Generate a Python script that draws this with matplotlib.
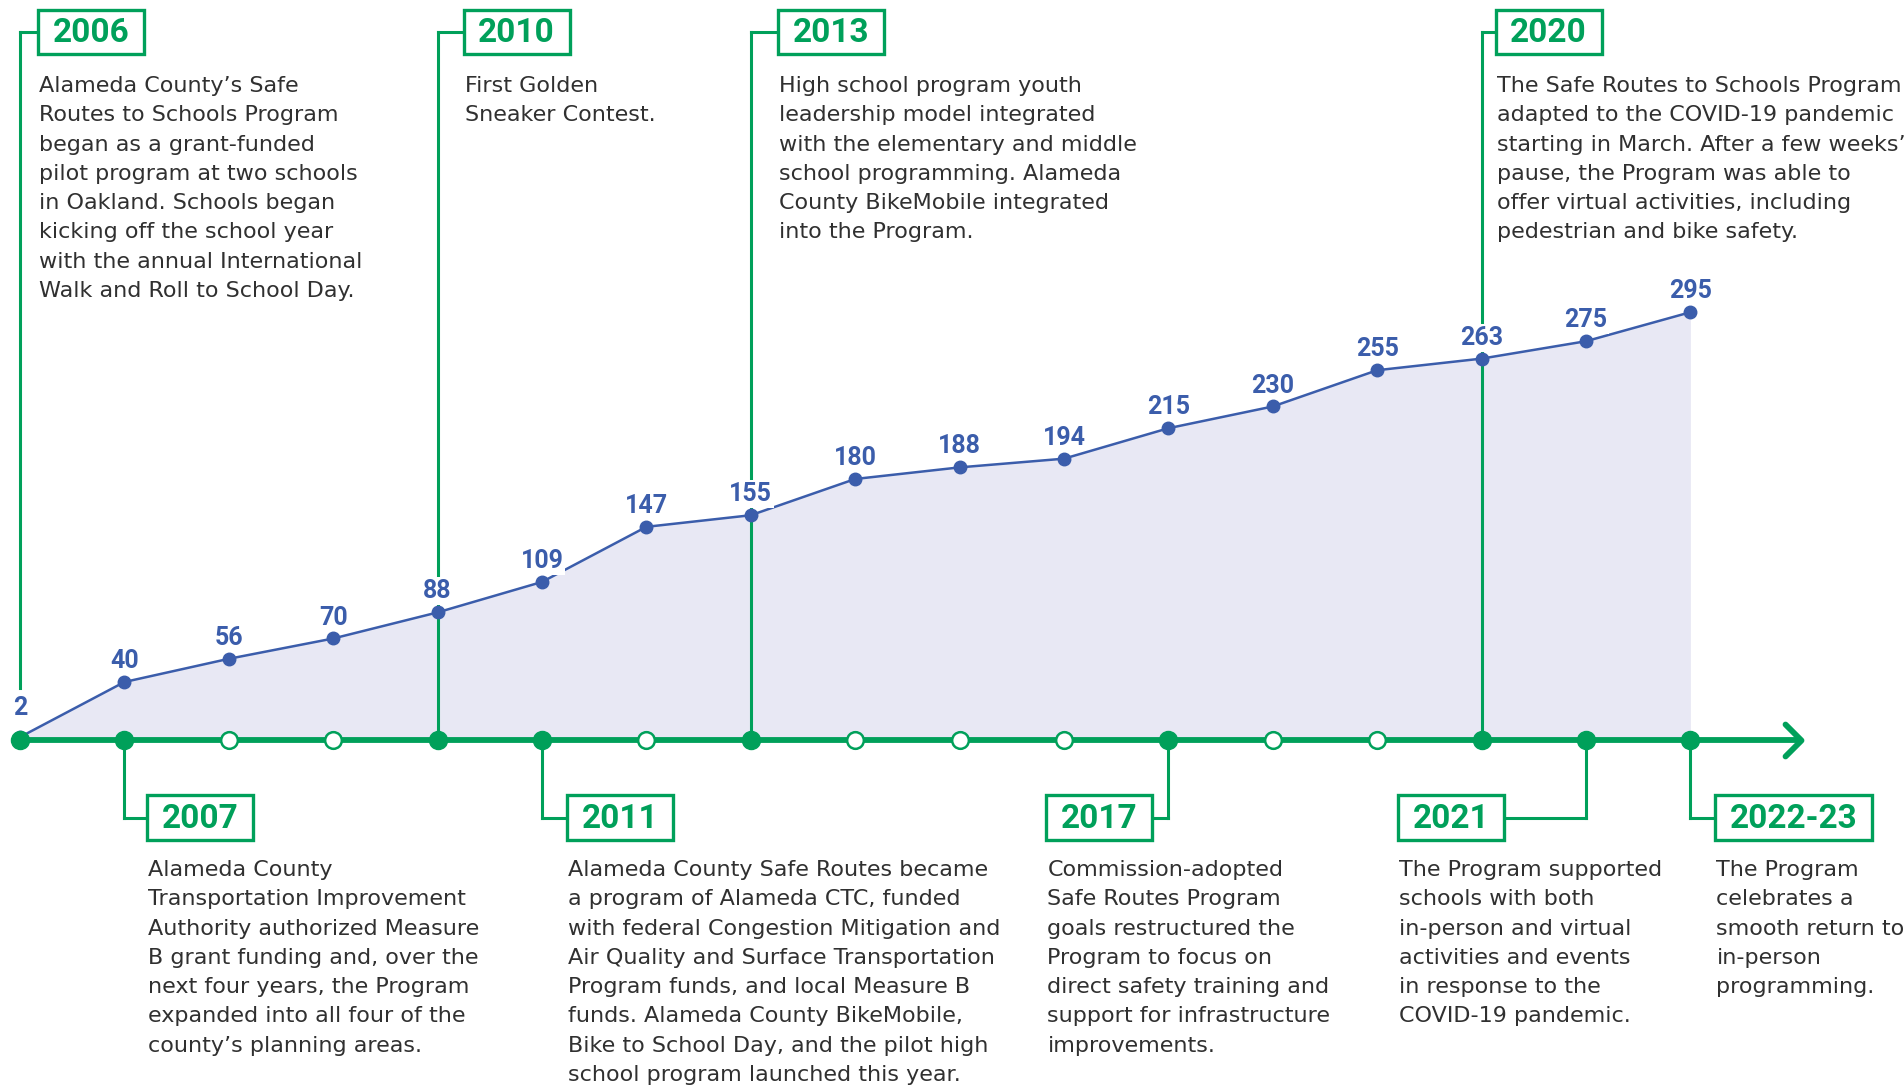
import matplotlib
matplotlib.use("Agg")
import matplotlib.pyplot as plt
from matplotlib.patches import Rectangle
from matplotlib.markers import MarkerStyle
from matplotlib.path import Path

# data
years = list(range(2006, 2023))
schools = [2, 40, 56, 70, 88, 109, 147, 155, 180, 188, 194, 215, 230, 255, 263, 275, 295]

milestone_years = [2006, 2007, 2010, 2011, 2013, 2017, 2020, 2021, 2022]
milestone_labels = ["2006", "2007", "2010", "2011", "2013", "2017", "2020", "2021", "2022-23"]
milestone_side = ["top", "bottom", "top", "bottom", "top", "bottom", "top", "bottom", "bottom"]
milestone_text = [
    ["Alameda County’s Safe", "Routes to Schools Program", "began as a grant-funded",
     "pilot program at two schools", "in Oakland. Schools began", "kicking off the school year",
     "with the annual International", "Walk and Roll to School Day."],
    ["Alameda County", "Transportation Improvement", "Authority authorized Measure",
     "B grant funding and, over the", "next four years, the Program",
     "expanded into all four of the", "county’s planning areas."],
    ["First Golden", "Sneaker Contest."],
    ["Alameda County Safe Routes became", "a program of Alameda CTC, funded",
     "with federal Congestion Mitigation and", "Air Quality and Surface Transportation",
     "Program funds, and local Measure B", "funds. Alameda County BikeMobile,",
     "Bike to School Day, and the pilot high", "school program launched this year."],
    ["High school program youth", "leadership model integrated",
     "with the elementary and middle", "school programming. Alameda",
     "County BikeMobile integrated", "into the Program."],
    ["Commission-adopted", "Safe Routes Program", "goals restructured the",
     "Program to focus on", "direct safety training and", "support for infrastructure",
     "improvements."],
    ["The Safe Routes to Schools Program", "adapted to the COVID-19 pandemic",
     "starting in March. After a few weeks’", "pause, the Program was able to",
     "offer virtual activities, including", "pedestrian and bike safety."],
    ["The Program supported", "schools with both", "in-person and virtual",
     "activities and events", "in response to the", "COVID-19 pandemic."],
    ["The Program", "celebrates a", "smooth return to", "in-person", "programming."],
]

# layout (pixels): gap between milestone tick and its box, negative = box on the left
box_gap = [18, 23, 26, 25, 27, -16, 14, -82, 25]

GREEN = "#00a05a"
BLUE = "#3b5dab"
FILL = "#e8e8f4"
TEXT = "#303030"
W, H = 1904, 1086
X0, X1 = 2005.8084, 2024.046
Y0, Y1 = -238.6, 510.3

fig = plt.figure(figsize=(W / 100, H / 100), dpi=100)
ax = fig.add_axes([0, 0, 1, 1])
ax.set_xlim(X0, X1)
ax.set_ylim(Y0, Y1)
ax.axis("off")


def P(x, y):
    return x / W, 1 - y / H


def px_x(year):
    return (year - X0) / (X1 - X0) * W


def px_y(val):
    return H * (1 - (val - Y0) / (Y1 - Y0))


axis_px = px_y(0)

# area + line
ax.fill_between(years, schools, 0, color=FILL, lw=0, zorder=1)
ax.plot(years, schools, color=BLUE, lw=1.8, marker="o", ms=9, zorder=4)

# timeline axis with chevron
axis_end = years[-1] + 1.06
ax.plot([years[0], axis_end], [0, 0], color=GREEN, lw=4.2, zorder=3, solid_capstyle="butt")
chev = MarkerStyle(Path([(-1, 1), (0, 0), (-1, -1)]), fillstyle="none",
                   capstyle="round", joinstyle="round")
ax.plot([axis_end], [0], marker=chev, ms=23, mew=4.2, color=GREEN, zorder=3)

# year markers
for y in years:
    if y in milestone_years:
        ax.plot(y, 0, "o", ms=13, color=GREEN, zorder=6)
    else:
        ax.plot(y, 0, "o", ms=12, mfc="white", mec=GREEN, mew=1.8, zorder=6)

# value labels
for y, v in zip(years, schools):
    off = 16 if y == years[0] else 10
    bb = None
    if y in milestone_years:
        bb = dict(fc="white", ec="none", pad=1.5)
    ax.annotate(str(v), (y, v), xytext=(0, off), textcoords="offset points",
                ha="center", va="baseline", color=BLUE, fontsize=18,
                fontweight="bold", family="Roboto", zorder=5, bbox=bb)

# milestone boxes, connectors, descriptions
for yr, lab, side, lines, gap in zip(milestone_years, milestone_labels, milestone_side,
                                     milestone_text, box_gap):
    ex = px_x(yr)
    bw = 106 + 17 * (len(lab) - 4)
    if side == "top":
        by0, by1 = 10, 54
        text_y = 92
    else:
        by0, by1 = 795, 840
        text_y = 876
    cy = (by0 + by1) / 2
    bx0 = ex + gap if gap > 0 else ex + gap - bw
    start = axis_px
    if yr == years[0]:
        # first tick: the line stops above the "2" label
        start = axis_px - 52
    ax.plot(*zip(P(ex, start), P(ex, cy)), transform=ax.transAxes,
            color=GREEN, lw=2.2, zorder=2)
    hx = bx0 if gap > 0 else bx0 + bw
    ax.plot(*zip(P(ex, cy), P(hx, cy)), transform=ax.transAxes, color=GREEN,
            lw=2.2, zorder=2)
    ax.add_patch(Rectangle(P(bx0, by1), bw / W, (by1 - by0) / H, transform=ax.transAxes,
                           fc="white", ec=GREEN, lw=2.4, zorder=7))
    ax.text(*P(bx0 + bw / 2, cy + 1), lab, transform=ax.transAxes, ha="center",
            va="center", color=GREEN, fontsize=24, fontweight="bold",
            family="Roboto", zorder=8)
    for i, line in enumerate(lines):
        ax.text(*P(bx0 + 1, text_y + i * 29.3), line, transform=ax.transAxes,
                ha="left", va="baseline", color=TEXT, fontsize=16,
                family="DejaVu Sans", zorder=8)

fig.savefig("out.png", dpi=100)
